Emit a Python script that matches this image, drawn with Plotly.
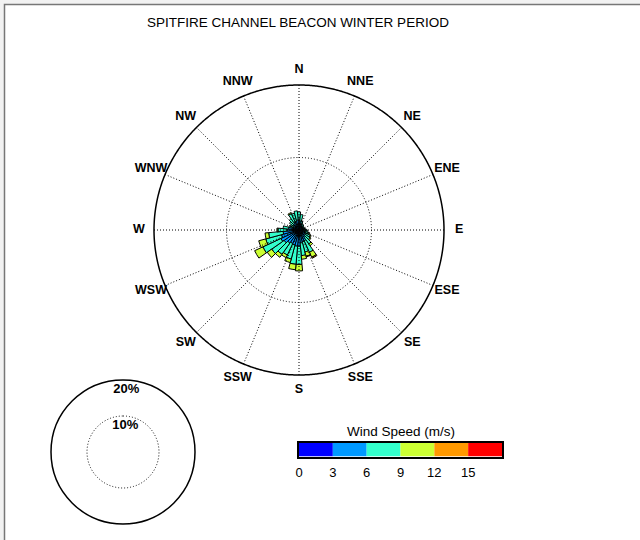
import numpy as np
import plotly.graph_objects as go

# ---------------- data ----------------
title_text = "SPITFIRE CHANNEL BEACON WINTER PERIOD"
directions = list(range(0, 360, 10))  # bin centres, degrees from North, clockwise
speed_bins = ["0-3", "3-6", "6-9", "9-12", "12-15", "15+"]
bin_colors = ["#0000FF", "#0099FF", "#33FFCC", "#CCFF33", "#FF9900", "#FF0000"]
speed_ticks = [0, 3, 6, 9, 12, 15]

# frequency (%) per direction for each speed bin
f_0_3 = [0.8, 0.7, 0.6, 0.5, 0.5, 0.5, 0.5, 0.5, 0.5, 0.6, 0.6, 0.6,
         0.6, 0.6, 0.7, 0.8, 0.8, 0.8, 1.0, 1.0, 1.0, 0.9, 0.9, 1.0,
         1.0, 1.0, 0.9, 0.8, 0.7, 0.6, 0.6, 0.6, 0.7, 0.7, 0.7, 0.8]
f_3_6 = [2.0, 1.8, 1.2, 1.0, 0.9, 0.8, 0.8, 0.8, 0.9, 1.0, 1.2, 1.3,
         1.4, 1.5, 1.8, 2.5, 2.5, 2.8, 3.5, 3.5, 3.3, 3.2, 3.5, 4.0,
         4.5, 4.0, 3.5, 2.5, 2.2, 1.5, 1.2, 1.4, 1.5, 1.8, 1.8, 2.0]
f_6_9 = [2.2, 1.8, 0.8, 0.5, 0.4, 0.3, 0.2, 0.3, 0.4, 0.6, 0.7, 1.0,
         1.4, 1.6, 2.2, 3.5, 3.0, 3.5, 5.0, 5.0, 4.0, 3.5, 3.8, 4.2,
         5.5, 4.5, 4.0, 2.5, 1.5, 0.8, 0.8, 1.2, 1.6, 2.5, 2.3, 2.5]
f_9_12 = [0.0, 0.0, 0.0, 0.0, 0.0, 0.0, 0.0, 0.0, 0.0, 0.0, 0.0, 0.2,
          0.3, 0.3, 0.6, 1.5, 1.2, 1.0, 1.8, 1.5, 1.0, 0.8, 1.0, 1.5,
          2.5, 2.0, 1.0, 0.3, 0.0, 0.0, 0.0, 0.0, 0.0, 0.3, 0.0, 0.0]
f_12_15 = [0.0] * 15 + [0.3, 0.2] + [0.0] * 19
f_15_up = [0.0] * 36
freqs = [f_0_3, f_3_6, f_6_9, f_9_12, f_12_15, f_15_up]

compass_labels = ["N", "NNE", "NE", "ENE", "E", "ESE", "SE", "SSE",
                  "S", "SSW", "SW", "WSW", "W", "WNW", "NW", "NNW"]
compass_angles = [i * 22.5 for i in range(16)]
rose_max = 40        # outer circle, %
rose_grid = 20       # dotted circle, %
label_r = 44.2       # compass label radius, %
scale_circles = [10, 20]

FONT = "Liberation Sans, Arial, Helvetica, sans-serif"
DOT = "1px,2px"

fig = go.Figure()

# ---------- main rose grid ----------
circ_t = np.linspace(0, 360, 721)
fig.add_trace(go.Scatterpolar(r=[rose_grid] * len(circ_t), theta=circ_t, mode="lines",
                              line=dict(color="black", width=1, dash=DOT),
                              hoverinfo="skip", showlegend=False, subplot="polar"))
sr, st = [], []
for a in compass_angles:
    sr += [0, rose_max, None]
    st += [a, a, None]
fig.add_trace(go.Scatterpolar(r=sr, theta=st, mode="lines",
                              line=dict(color="black", width=1, dash=DOT),
                              hoverinfo="skip", showlegend=False, subplot="polar"))
fig.add_trace(go.Scatterpolar(r=[rose_max] * len(circ_t), theta=circ_t, mode="lines",
                              line=dict(color="black", width=1.5),
                              hoverinfo="skip", showlegend=False, subplot="polar"))

# ---------- stacked bars ----------
for name, vals, col in zip(speed_bins, freqs, bin_colors):
    fig.add_trace(go.Barpolar(r=vals, theta=directions, width=[10] * len(directions),
                              name=name, marker=dict(color=col, line=dict(color="black", width=1)),
                              showlegend=False, subplot="polar"))

# compass labels
fig.add_trace(go.Scatterpolar(r=[label_r] * 16, theta=compass_angles, mode="text",
                              text=compass_labels, textposition="middle center",
                              textfont=dict(family=FONT, size=12.5, color="black", weight="bold"),
                              cliponaxis=False, hoverinfo="skip", showlegend=False,
                              subplot="polar"))

# ---------- scale circle ----------
fig.add_trace(go.Scatterpolar(r=[scale_circles[0]] * len(circ_t), theta=circ_t, mode="lines",
                              line=dict(color="black", width=1, dash=DOT),
                              hoverinfo="skip", showlegend=False, subplot="polar2"))
fig.add_trace(go.Scatterpolar(r=[scale_circles[1] * 0.86, scale_circles[0] * 0.72], theta=[3, 5],
                              mode="text", text=[f"{scale_circles[1]}%", f"{scale_circles[0]}%"],
                              textposition="middle center",
                              textfont=dict(family=FONT, size=13, color="black", weight="bold"),
                              cliponaxis=False, hoverinfo="skip", showlegend=False,
                              subplot="polar2"))

# ---------- colour bar ----------
fig.add_trace(go.Bar(x=[3] * 6, base=[i * 3 for i in range(6)], y=[0] * 6, orientation="h",
                     width=1, marker=dict(color=bin_colors, line=dict(width=0)),
                     hoverinfo="skip", showlegend=False, xaxis="x", yaxis="y"))

W, H = 640, 540
cx, cy, R = 299, 230, 145
RF = R * label_r / rose_max * 1.01  # half-size of the polar domain incl. label ring
lx, ly, LR = 123, 452, 72

fig.update_layout(
    width=W, height=H, template="none",
    margin=dict(l=0, r=0, t=0, b=0),
    paper_bgcolor="#f2f2f2", plot_bgcolor="white",
    font=dict(family=FONT, size=12, color="black"),
    title=dict(text=title_text, x=(cx - 1) / W, xanchor="center", y=1 - 22 / H, yanchor="middle",
               font=dict(family=FONT, size=13.5, color="black")),
    polar=dict(
        domain=dict(x=[(cx - RF) / W, (cx + RF) / W], y=[1 - (cy + RF) / H, 1 - (cy - RF) / H]),
        bgcolor="rgba(0,0,0,0)", barmode="stack", hole=0,
        radialaxis=dict(range=[0, rose_max * 1.01 * label_r / rose_max], visible=False,
                        showgrid=False),
        angularaxis=dict(direction="clockwise", rotation=90, showgrid=False, showticklabels=False,
                         ticks="", showline=False),
    ),
    polar2=dict(
        domain=dict(x=[(lx - LR) / W, (lx + LR) / W], y=[1 - (ly + LR) / H, 1 - (ly - LR) / H]),
        bgcolor="white",
        radialaxis=dict(range=[0, scale_circles[1]], visible=False, showgrid=False),
        angularaxis=dict(direction="clockwise", rotation=90, showgrid=False, showticklabels=False,
                         ticks="", showline=True, linecolor="black", linewidth=1.5),
    ),
    xaxis=dict(domain=[299 / W, 502 / W], range=[0, 18], tickvals=speed_ticks,
               ticktext=[str(t) for t in speed_ticks], ticks="outside", ticklen=3,
               tickcolor="rgba(0,0,0,0)", showgrid=False, zeroline=False,
               showline=True, linecolor="black", linewidth=1.5, mirror=True,
               tickfont=dict(family=FONT, size=13, color="black"), fixedrange=True),
    yaxis=dict(domain=[1 - 456.5 / H, 1 - 443 / H], range=[-0.5, 0.5], showticklabels=False,
               ticks="", showgrid=False, zeroline=False, showline=True, linecolor="black",
               linewidth=1.5, mirror=True, fixedrange=True),
    annotations=[dict(text="Wind Speed (m/s)", xref="x domain", yref="y domain", x=0.5, y=1,
                      yanchor="bottom", yshift=2, showarrow=False,
                      font=dict(family=FONT, size=13.5, color="black"))],
    shapes=[dict(type="rect", xref="paper", yref="paper", x0=4.5 / W, x1=1.05, y0=-0.05,
                 y1=1 - 4.5 / H, fillcolor="white", line=dict(color="#777777", width=1.5),
                 layer="below")],
)

fig.write_html("out.html", config={"displayModeBar": False},
               post_script="document.body.style.margin='0';")
